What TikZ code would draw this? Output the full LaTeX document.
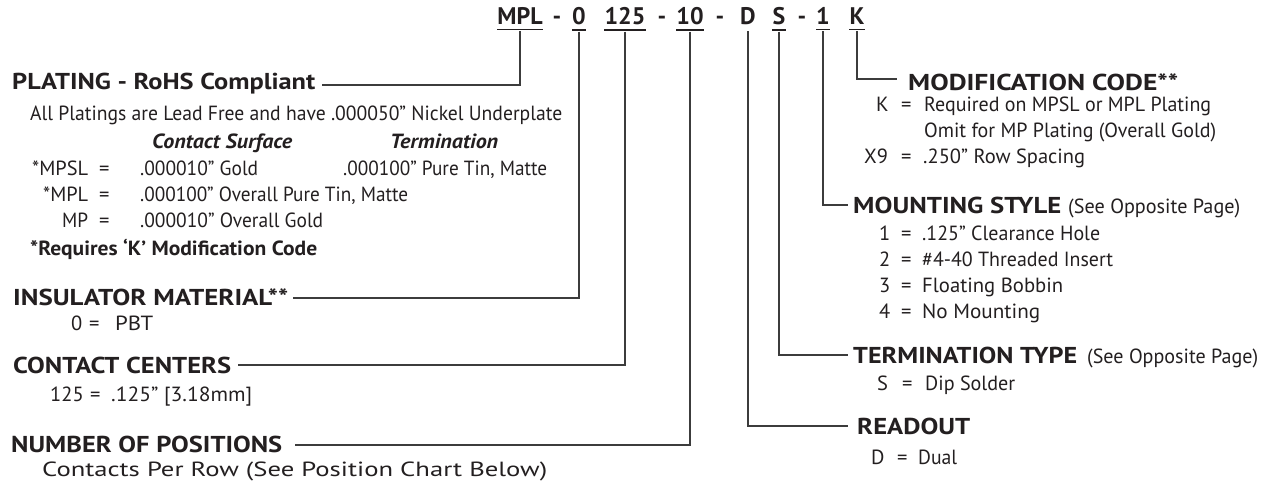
\documentclass[tikz,border=0pt]{standalone}
\usepackage{fontspec}
\usepackage{graphicx}
\setmainfont{PT Sans}
\definecolor{ink}{HTML}{231F20}
\definecolor{wire}{HTML}{3C3C3C}
\newcommand\fitto[2]{\resizebox{#1}{\height}{#2}}
\begin{document}
\begin{tikzpicture}[x=1pt,y=-1pt,
  every node/.style={inner sep=0pt, text=ink, anchor=base west},
  hdr/.style={font=\fontsize{23}{26}\selectfont\bfseries},
  txt/.style={font=\fontsize{20.5}{24}\selectfont},
  bit/.style={font=\fontsize{20.5}{24}\selectfont\bfseries\itshape},
  btx/.style={font=\fontsize{20.5}{24}\selectfont\bfseries},
  code/.style={font=\fontsize{24}{26}\selectfont\bfseries, anchor=base},
  lnk/.style={draw=wire, line width=1.1pt},
  ul/.style={draw=ink, line width=1.4pt}]
\useasboundingbox (0,0) rectangle (1265,487);

% ---- part number ----
\node[code] (cMPL) at (520,25) {MPL};
\node[code] (d1) at (557,25) {-};
\node[code] (c0) at (579,25) {0};
\node[code] (c125) at (625,25) {125};
\node[code] (d2) at (662,25) {-};
\node[code] (c10) at (690,25) {10};
\node[code] (d3) at (720,25) {-};
\node[code] (cD) at (748,25) {D};
\node[code] (cS) at (779,25) {S};
\node[code] (d4) at (802,25) {-};
\node[code] (c1) at (823,25) {1};
\node[code] (cK) at (857,25) {K};
\foreach \n in {cMPL,c0,c125,c10,cS,c1,cK}
  \draw[ul] ([yshift=-4.5pt]\n.south west) -- ([yshift=-4.5pt]\n.south east);

% ---- left: plating ----
\node[hdr] (hPlat) at (12,89) {\fitto{303pt}{PLATING - RoHS Compliant}};
\node[txt] (tAll) at (30,121) {\fitto{532pt}{All Platings are Lead Free and have .000050” Nickel Underplate}};
\node[bit] (tCS) at (152,148) {\fitto{140pt}{Contact Surface}};
\node[bit] (tTe) at (390,148) {\fitto{108pt}{Termination}};
\node[txt] (k1) at (32,175) {\fitto{56pt}{*MPSL}};
\node[txt] (e1) at (99,175) {=};
\node[txt] (v1) at (140,175) {\fitto{118pt}{.000010” Gold}};
\node[txt] (w1) at (343,175) {\fitto{204pt}{.000100” Pure Tin, Matte}};
\node[txt] (k2) at (43,201) {\fitto{45pt}{*MPL}};
\node[txt] (e2) at (99,201) {=};
\node[txt] (v2) at (140,201) {\fitto{268pt}{.000100” Overall Pure Tin, Matte}};
\node[txt] (k3) at (62,227) {\fitto{26pt}{MP}};
\node[txt] (e3) at (99,227) {=};
\node[txt] (v3) at (140,227) {\fitto{183pt}{.000010” Overall Gold}};
\node[btx] (tReq) at (30,255) {\fitto{287pt}{*Requires ‘K’ Modification Code}};

% ---- left: insulator ----
\node[hdr] (hIns) at (13,305) {\fitto{275pt}{INSULATOR MATERIAL**}};
\node[txt] (k4) at (71,330) {0};
\node[txt] (e4) at (89,330) {=};
\node[txt] (v4) at (115,330) {\fitto{38pt}{PBT}};

% ---- left: contact centers ----
\node[hdr] (hCon) at (13,373) {\fitto{218pt}{CONTACT CENTERS}};
\node[txt] (k5) at (50,401) {125};
\node[txt] (e5) at (90,401) {=};
\node[txt] (v5) at (111,401) {\fitto{141pt}{.125” [3.18mm]}};

% ---- left: positions ----
\node[hdr] (hNum) at (11,452) {\fitto{271pt}{NUMBER OF POSITIONS}};
\node[txt] (tCpr) at (42,476) {\fitto{505pt}{Contacts Per Row (See Position Chart Below)}};

% ---- right: modification ----
\node[hdr] (hMod) at (908,90) {\fitto{270pt}{MODIFICATION CODE**}};
\node[txt] (k6) at (876,111) {K};
\node[txt] (e6) at (901,111) {=};
\node[txt] (v6) at (924,111) {\fitto{287pt}{Required on MPSL or MPL Plating}};
\node[txt] (v6b) at (924,137) {\fitto{292pt}{Omit for MP Plating (Overall Gold)}};
\node[txt] (k7) at (864,163) {X9};
\node[txt] (e7) at (901,163) {=};
\node[txt] (v7) at (923,163) {\fitto{162pt}{.250” Row Spacing}};

% ---- right: mounting ----
\node[hdr] (hMou) at (853,213) {\fitto{208pt}{MOUNTING STYLE}};
\node[txt] (sMou) at (1068,213) {\fitto{172pt}{(See Opposite Page)}};
\node[txt] (k8) at (879,240) {1};
\node[txt] (e8) at (901,240) {=};
\node[txt] (v8) at (922,240) {\fitto{178pt}{.125” Clearance Hole}};
\node[txt] (k9) at (879,266) {2};
\node[txt] (e9) at (901,266) {=};
\node[txt] (v9) at (922,266) {\fitto{191pt}{\#4-40 Threaded Insert}};
\node[txt] (k10) at (879,292) {3};
\node[txt] (e10) at (901,292) {=};
\node[txt] (v10) at (922,292) {\fitto{141pt}{Floating Bobbin}};
\node[txt] (k11) at (879,318) {4};
\node[txt] (e11) at (901,318) {=};
\node[txt] (v11) at (922,318) {\fitto{118pt}{No Mounting}};

% ---- right: termination ----
\node[hdr] (hTer) at (853,363) {\fitto{224pt}{TERMINATION TYPE}};
\node[txt] (sTer) at (1087,363) {\fitto{171pt}{(See Opposite Page)}};
\node[txt] (k12) at (877,390) {S};
\node[txt] (e12) at (902,390) {=};
\node[txt] (v12) at (925,390) {\fitto{90pt}{Dip Solder}};

% ---- right: readout ----
\node[hdr] (hRea) at (857,434) {\fitto{113pt}{READOUT}};
\node[txt] (k13) at (871,464) {D};
\node[txt] (e13) at (897,464) {=};
\node[txt] (v13) at (918,464) {\fitto{39pt}{Dual}};

% ---- connector levels ----
\coordinate (yPlat) at (0,85);
\coordinate (yIns) at (0,298);
\coordinate (yCon) at (0,365);
\coordinate (yNum) at (0,445);
\coordinate (yMod) at (0,79);
\coordinate (yMou) at (0,205);
\coordinate (yTer) at (0,355);
\coordinate (yRea) at (0,426);

\draw[lnk] ([yshift=-6pt]cMPL.south) |- ([xshift=7pt]hPlat.east |- yPlat);
\draw[lnk] ([yshift=-6pt]c0.south) |- ([xshift=5pt]hIns.east |- yIns);
\draw[lnk] ([yshift=-6pt]c125.south) |- ([xshift=7pt]hCon.east |- yCon);
\draw[lnk] ([yshift=-6pt]c10.south) |- ([xshift=13pt]hNum.east |- yNum);
\draw[lnk] ([yshift=-6pt]cK.south) |- ([xshift=-11pt]hMod.west |- yMod);
\draw[lnk] ([yshift=-6pt]c1.south) |- ([xshift=-5pt]hMou.west |- yMou);
\draw[lnk] ([yshift=-6pt]cS.south) |- ([xshift=-5pt]hTer.west |- yTer);
\draw[lnk] ([yshift=-6pt]cD.south) |- ([xshift=-9pt]hRea.west |- yRea);
\end{tikzpicture}
\end{document}
